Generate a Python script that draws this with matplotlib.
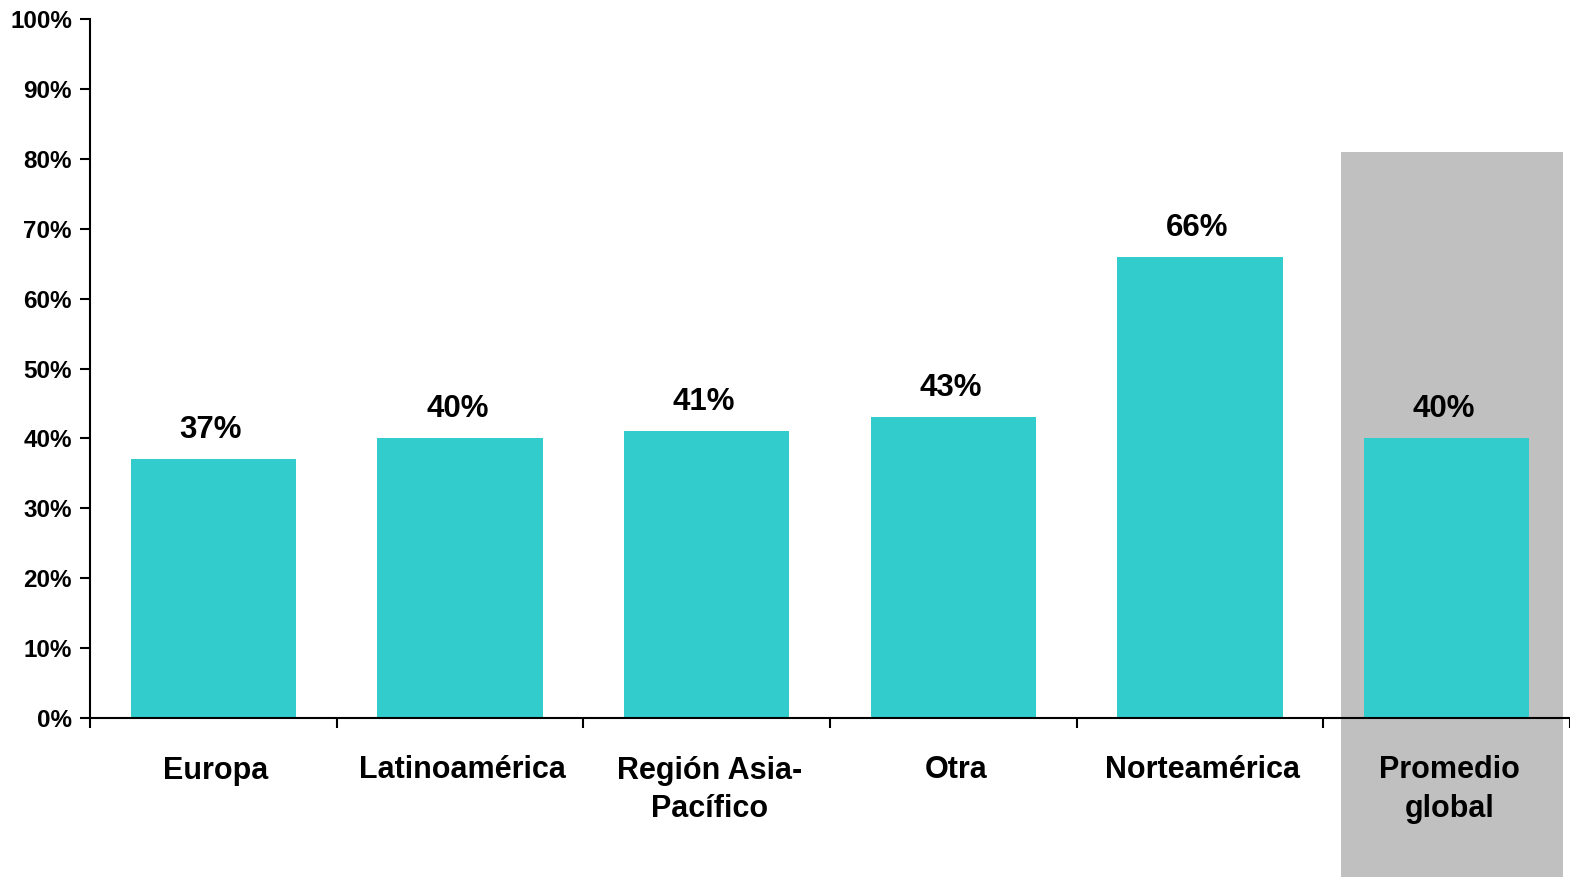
import matplotlib
matplotlib.use('Agg')
import matplotlib.pyplot as plt
import matplotlib.ticker as mticker
from matplotlib.patches import Rectangle

categories = ['Europa', 'Latinoamérica', 'Región Asia-\nPacífico', 'Otra', 'Norteamérica', 'Promedio\nglobal']
values = [37, 40, 41, 43, 66, 40]
value_labels = ['37%', '40%', '41%', '43%', '66%', '40%']

plt.rcParams['font.family'] = ['Liberation Sans', 'DejaVu Sans']
plt.rcParams['font.weight'] = 'bold'

fig = plt.figure(figsize=(15.7, 8.77), dpi=100)
ax = fig.add_axes([90 / 1570, (877 - 718) / 877, 1480 / 1570, 699 / 877])

x = [i + 0.5 for i in range(len(categories))]

# grey highlight behind the global average
ax.add_patch(Rectangle((5.07, -40), 0.9, 121, facecolor='#C0C0C0', edgecolor='none',
                       clip_on=False, zorder=0))

ax.bar(x, values, width=0.67, color='#33CCCC', zorder=2)

for xi, v, lab in zip(x, values, value_labels):
    ax.text(xi - 0.01, v + 3, lab, ha='center', va='baseline', fontsize=22.5, fontweight='bold')

ax.set_xlim(0, 6)
ax.set_ylim(0, 100)
ax.yaxis.set_major_locator(mticker.MultipleLocator(10))
ax.yaxis.set_major_formatter(mticker.FuncFormatter(lambda v, p: f'{int(v)}%'))
ax.set_xticks(range(7))
ax.set_xticklabels([])
ax.set_xticks([xi + 0.01 for xi in x], minor=True)
ax.set_xticklabels(categories, minor=True, fontsize=22, fontweight='bold', linespacing=1.37)
ax.tick_params(axis='x', which='minor', length=0, pad=27)
ax.tick_params(axis='x', which='major', direction='out', length=7, width=1.5)
ax.tick_params(axis='y', direction='out', length=7, width=1.5, labelsize=17.5, pad=6)

for s in ['top', 'right']:
    ax.spines[s].set_visible(False)
ax.spines['left'].set_linewidth(1.5)
ax.spines['bottom'].set_linewidth(1.5)
ax.spines['bottom'].set_zorder(3)
ax.patch.set_visible(False)

fig.savefig('out.png', dpi=100)
